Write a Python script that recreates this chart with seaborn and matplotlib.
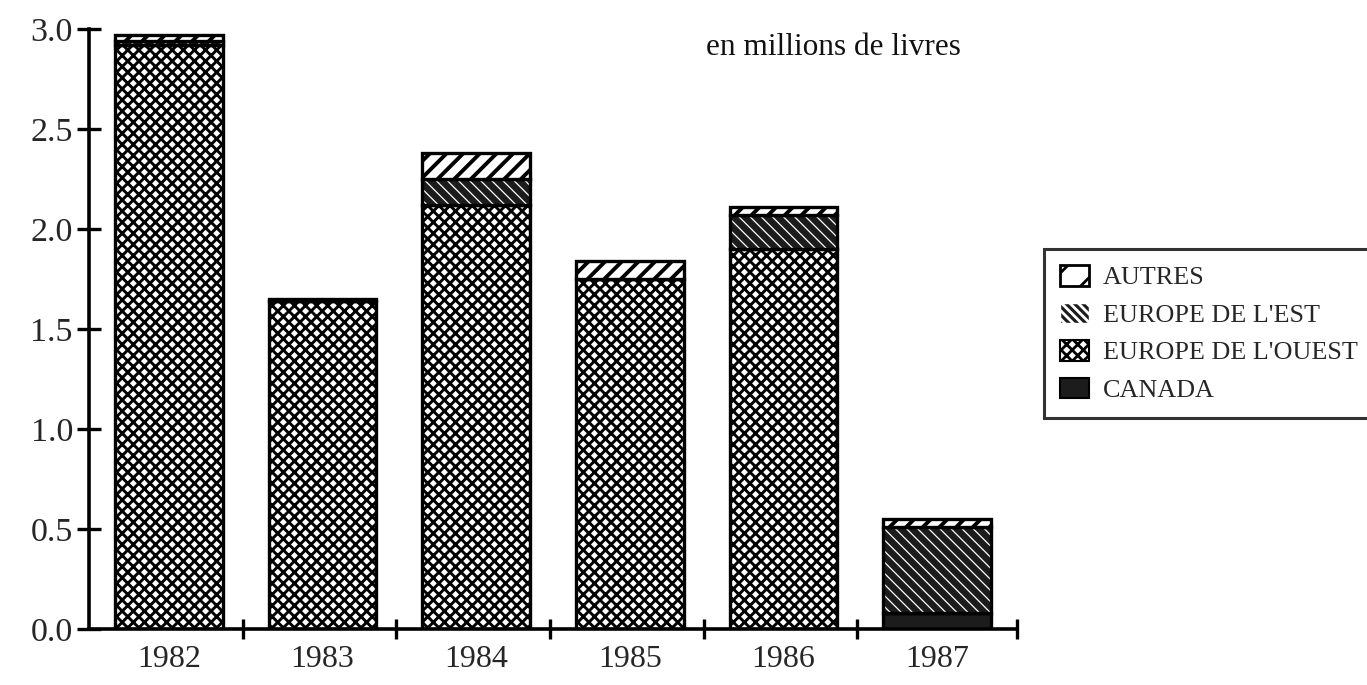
import matplotlib.pyplot as plt
import numpy as np
import seaborn as sns
from matplotlib.patches import Patch
from matplotlib.ticker import FixedLocator


sns.set_theme(style="white")
plt.rcParams["font.family"] = ["Liberation Serif", "DejaVu Serif"]
plt.rcParams["hatch.linewidth"] = 2.4

years = ["1982", "1983", "1984", "1985", "1986", "1987"]
canada = [0.0, 0.0, 0.0, 0.0, 0.0, 0.08]
europe_ouest = [2.92, 1.64, 2.12, 1.75, 1.90, 0.0]
europe_est = [0.02, 0.0, 0.13, 0.0, 0.17, 0.43]
autres = [0.03, 0.01, 0.13, 0.09, 0.04, 0.04]

yticks = [0.0, 0.5, 1.0, 1.5, 2.0, 2.5, 3.0]
unit_label = "en millions de livres"

dark = "#1c1c1c"
bar_kw = dict(order=years, width=0.7, saturation=1, linewidth=2.4)

fig = plt.figure(figsize=(13.67, 6.85), dpi=100)
ax = fig.add_axes([0.065, 0.082, 0.679, 0.876])

base = np.zeros(len(years))

# canada (solid)
sns.barplot(x=years, y=canada, bottom=base, color=dark, edgecolor="black", ax=ax, **bar_kw)
base = base + np.array(canada)

# europe de l'ouest (dense cross hatch)
plt.rcParams["hatch.linewidth"] = 2.1
sns.barplot(x=years, y=europe_ouest, bottom=base, color="white", edgecolor="black",
            hatch="xxx", ax=ax, **bar_kw)
base = base + np.array(europe_ouest)

# europe de l'est (thin white diagonal lines on black) + outline
plt.rcParams["hatch.linewidth"] = 0.9
sns.barplot(x=years, y=europe_est, bottom=base, color=dark, edgecolor="white",
            hatch="\\\\\\", ax=ax, order=years, width=0.7, saturation=1, linewidth=0)
sns.barplot(x=years, y=europe_est, bottom=base, color="black", fill=False, ax=ax, **bar_kw)
base = base + np.array(europe_est)

# autres (diagonal stripes)
plt.rcParams["hatch.linewidth"] = 2.8
sns.barplot(x=years, y=autres, bottom=base, color="white", edgecolor="black",
            hatch="//", ax=ax, **bar_kw)

ax.set_xlim(-0.52, 5.52)
ax.set_ylim(0, 3.0)
ax.set_yticks(yticks)
ax.set_yticklabels([f"{v:.1f}" for v in yticks])
ax.xaxis.set_minor_locator(FixedLocator(list(np.arange(0.48, len(years) - 1, 1.0)) + [5.52]))
ax.tick_params(axis="x", which="major", length=0, pad=12, labelsize=23)
ax.tick_params(axis="x", which="minor", direction="inout", length=15, width=2.4,
               color="black", bottom=True)
ax.tick_params(axis="y", which="major", direction="inout", length=17, width=2.4,
               color="black", left=True, pad=3, labelsize=24.5)
ax.set_xlabel("")
ax.set_ylabel("")

for side in ["top", "right"]:
    ax.spines[side].set_visible(False)
for side in ["left", "bottom"]:
    ax.spines[side].set_color("black")
    ax.spines[side].set_linewidth(2.6)

ax.text(0.665, 0.968, unit_label, transform=ax.transAxes, fontsize=22.5,
        ha="left", va="center", color="#111111")

plt.rcParams["hatch.linewidth"] = 2.0
handles = [
    Patch(facecolor="white", edgecolor="black", hatch="/", linewidth=2),
    Patch(facecolor=dark, edgecolor="white", hatch="\\\\\\\\", linewidth=1),
    Patch(facecolor="white", edgecolor="black", hatch="xxx", linewidth=1.5),
    Patch(facecolor=dark, edgecolor="black", linewidth=1.5),
]
labels = ["AUTRES", "EUROPE DE L'EST", "EUROPE DE L'OUEST", "CANADA"]
leg = fig.legend(handles, labels, loc="upper left", bbox_to_anchor=(0.764, 0.636),
                 fontsize=18.8, frameon=True, fancybox=False, edgecolor="black",
                 handlelength=1.1, handleheight=0.85, handletextpad=0.55,
                 labelspacing=0.5, borderpad=0.6, borderaxespad=0)
leg.get_frame().set_linewidth(2.2)

fig.savefig("out.png", dpi=100)
plt.close(fig)
